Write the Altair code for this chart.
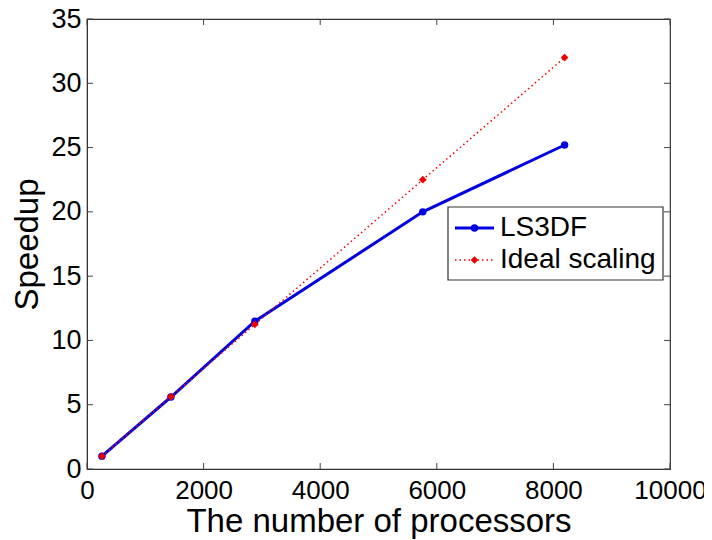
import altair as alt
import pandas as pd

procs = [256, 1440, 2880, 5760, 8192]
ls3df = [1.0, 5.6, 11.5, 20.0, 25.2]
ideal = [1.0, 5.625, 11.25, 22.5, 32.0]
x_ticks = [0, 2000, 4000, 6000, 8000, 10000]
y_ticks = [0, 5, 10, 15, 20, 25, 30, 35]
series_names = ["LS3DF", "Ideal scaling"]

W, H = 583, 450
FONT = "Liberation Sans"
BLUE = "#0000e0"
RED = "#ee0000"

df_l = pd.DataFrame({"procs": procs, "speedup": ls3df})
df_i = pd.DataFrame({"procs": procs, "speedup": ideal})
df_xt = pd.DataFrame({"procs": x_ticks})
df_yt = pd.DataFrame({"speedup": y_ticks})

xs = alt.Scale(domain=[0, 10000], nice=False, zero=False)
ys = alt.Scale(domain=[0, 35], nice=False, zero=False)

xax = alt.Axis(values=x_ticks, format="d", title="The number of processors", grid=False,
               ticks=False, labelPadding=8, labelFontSize=26, titleFontSize=33,
               labelFont=FONT, titleFont=FONT, titleFontWeight="normal",
               labelColor="black", titleColor="black", domainColor="#333",
               titlePadding=2, labelFlush=False, labelOverlap=False)
yax = alt.Axis(values=y_ticks, format="d", title="Speedup", grid=False, ticks=False,
               labelPadding=6, labelFontSize=27, titleFontSize=33,
               labelFont=FONT, titleFont=FONT, titleFontWeight="normal",
               labelColor="black", titleColor="black", domainColor="#333",
               titlePadding=6, labelFlush=False, labelOverlap=False)

X = alt.X("procs:Q", scale=xs, axis=xax)
Y = alt.Y("speedup:Q", scale=ys, axis=yax)

blue_line = alt.Chart(df_l).mark_line(color=BLUE, strokeWidth=3).encode(x=X, y=Y)
blue_pts = alt.Chart(df_l).mark_point(filled=True, shape="circle", size=55,
                                       color=BLUE, opacity=1).encode(x=X, y=Y)
red_line = alt.Chart(df_i).mark_line(color=RED, strokeWidth=1.5,
                                     strokeDash=[1.5, 3]).encode(x=X, y=Y)
red_pts = alt.Chart(df_i).mark_point(filled=True, shape="diamond", size=60,
                                      color=RED, opacity=1).encode(x=X, y=Y)

TK = 6
tick_color = "#444"
xt_bottom = alt.Chart(df_xt).mark_rule(color=tick_color, strokeWidth=1).encode(
    x=X, y=alt.value(H), y2=alt.value(H - TK))
xt_top = alt.Chart(df_xt).mark_rule(color=tick_color, strokeWidth=1).encode(
    x=X, y=alt.value(0), y2=alt.value(TK))
yt_left = alt.Chart(df_yt).mark_rule(color=tick_color, strokeWidth=1).encode(
    y=Y, x=alt.value(0), x2=alt.value(TK))
yt_right = alt.Chart(df_yt).mark_rule(color=tick_color, strokeWidth=1).encode(
    y=Y, x=alt.value(W - TK), x2=alt.value(W))

# legend (plot-pixel positions)
one = pd.DataFrame({"a": [0]})
LX0, LY0, LX1, LY1 = 361, 188, 576, 261
ly1, ly2 = 209, 241
leg_box = alt.Chart(one).mark_rect(fill="white", stroke="#333", strokeWidth=1.2).encode(
    x=alt.value(LX0), x2=alt.value(LX1), y=alt.value(LY0), y2=alt.value(LY1))
leg_l1 = alt.Chart(one).mark_rule(color=BLUE, strokeWidth=3).encode(
    x=alt.value(368), x2=alt.value(407), y=alt.value(ly1))
leg_p1 = alt.Chart(one).mark_point(filled=True, shape="circle", size=55,
                                   color=BLUE, opacity=1).encode(
    x=alt.value(387.5), y=alt.value(ly1))
leg_l2 = alt.Chart(one).mark_rule(color=RED, strokeWidth=1.5, strokeDash=[1.5, 3]).encode(
    x=alt.value(368), x2=alt.value(407), y=alt.value(ly2))
leg_p2 = alt.Chart(one).mark_point(filled=True, shape="diamond", size=60,
                                   color=RED, opacity=1).encode(
    x=alt.value(387.5), y=alt.value(ly2))
leg_t1 = alt.Chart(one).mark_text(align="left", baseline="middle", font=FONT,
                                  fontSize=28, color="black", text=series_names[0]).encode(
    x=alt.value(413), y=alt.value(ly1))
leg_t2 = alt.Chart(one).mark_text(align="left", baseline="middle", font=FONT,
                                  fontSize=28, color="black", text=series_names[1]).encode(
    x=alt.value(413), y=alt.value(ly2))

chart = alt.layer(
    blue_line, red_line, blue_pts, red_pts,
    xt_bottom, xt_top, yt_left, yt_right,
    leg_box, leg_l1, leg_p1, leg_l2, leg_p2, leg_t1, leg_t2,
).properties(
    width=W, height=H,
    autosize=alt.AutoSizeParams(type="none"),
    padding={"left": 79, "top": 11, "right": 34, "bottom": 70},
    background="white",
).configure_view(stroke="#333", strokeWidth=1.2)

chart.save("out.html", embed_options={"renderer": "svg", "actions": False})
